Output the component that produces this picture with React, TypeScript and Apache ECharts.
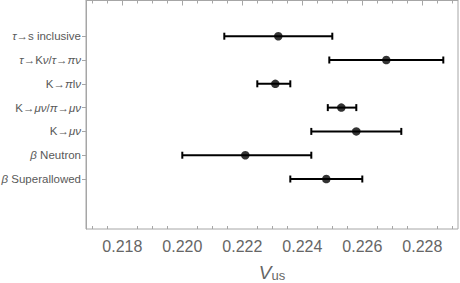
import React, { useEffect, useRef } from "react";
import * as echarts from "echarts";

const categories = [
  "τ→s inclusive",
  "τ→Kν/τ→πν",
  "K→πlν",
  "K→μν/π→μν",
  "K→μν",
  "β Neutron",
  "β Superallowed",
];
const centers = [0.2232, 0.2268, 0.2231, 0.2253, 0.2258, 0.2221, 0.2248];
const lows = [0.2214, 0.2249, 0.2225, 0.22485, 0.2243, 0.2200, 0.2236];
const highs = [0.2250, 0.2287, 0.2236, 0.2258, 0.2273, 0.2243, 0.2260];
const majorTicks = [0.218, 0.220, 0.222, 0.224, 0.226, 0.228];
const minorTicks = [0.217, 0.2175, 0.2185, 0.219, 0.2195, 0.2205, 0.221, 0.2215, 0.2225, 0.223, 0.2235, 0.2245, 0.225, 0.2255, 0.2265, 0.227, 0.2275, 0.2285, 0.229];

const X_MIN = 0.21679;
const X_MAX = 0.22919;
const Y_OFFSET = 1.5;
const Y_MAX = 9.6;

const AXIS_COLOR = "#a6a6a6";
const LABEL_COLOR = "#666666";
const FONT = "'Liberation Sans', Arial, sans-serif";

function italicize(s: string): string {
  return s.replace(/([τνπμβ])/g, "{i|$1}");
}

export default function App() {
  const ref = useRef<HTMLDivElement>(null);
  useEffect(() => {
    document.body.style.margin = "0";
    if (!ref.current) return;
    const chart = echarts.init(ref.current, null, { renderer: "svg" });
    const yPos = categories.map((_, i) => i + Y_OFFSET);
    const baseX = (extra: any) => ({
      type: "value",
      min: X_MIN,
      max: X_MAX,
      gridIndex: 0,
      splitLine: { show: false },
      ...extra,
    });
    const option: any = {
      animation: false,
      grid: {
        left: 86,
        right: 2,
        top: 0.5,
        bottom: 54,
        containLabel: false,
        outerBoundsMode: "none",
        show: true,
        borderColor: AXIS_COLOR,
        borderWidth: 1,
        backgroundColor: "transparent",
      },
      xAxis: [
        baseX({
          position: "bottom",
          axisLine: { show: true, lineStyle: { color: AXIS_COLOR, width: 1 } },
          axisTick: {
            show: true,
            inside: true,
            length: 5,
            customValues: majorTicks,
            lineStyle: { color: AXIS_COLOR },
          },
          axisLabel: {
            show: true,
            customValues: majorTicks,
            formatter: (v: number) => v.toFixed(3),
            color: LABEL_COLOR,
            fontSize: 16,
            fontFamily: FONT,
            margin: 9,
          },
          name: "{v|V}{s|us}",
          nameLocation: "middle",
          nameGap: 33,
          nameTextStyle: {
            rich: {
              v: { fontSize: 19, fontStyle: "italic", color: LABEL_COLOR, fontFamily: FONT, lineHeight: 20, verticalAlign: "bottom" },
              s: { fontSize: 13, color: LABEL_COLOR, fontFamily: FONT, lineHeight: 13, verticalAlign: "bottom" },
            },
          },
        }),
        baseX({
          position: "bottom",
          offset: 0,
          axisLine: { show: false },
          axisTick: { show: true, inside: true, length: 3, customValues: minorTicks, lineStyle: { color: AXIS_COLOR } },
          axisLabel: { show: false },
        }),
        baseX({
          position: "top",
          offset: 0,
          axisLine: { show: false },
          axisTick: { show: true, inside: true, length: 5, customValues: majorTicks, lineStyle: { color: AXIS_COLOR } },
          axisLabel: { show: false },
        }),
        baseX({
          position: "top",
          offset: 0,
          axisLine: { show: false },
          axisTick: { show: true, inside: true, length: 3, customValues: minorTicks, lineStyle: { color: AXIS_COLOR } },
          axisLabel: { show: false },
        }),
      ],
      yAxis: {
        type: "value",
        inverse: true,
        min: 0,
        max: Y_MAX,
        splitLine: { show: false },
        axisLine: { show: true, lineStyle: { color: AXIS_COLOR } },
        axisTick: {
          show: true,
          length: 4,
          customValues: yPos,
          lineStyle: { color: AXIS_COLOR },
        },
        axisLabel: {
          show: true,
          customValues: yPos,
          margin: 5,
          color: "#595959",
          fontSize: 11.5,
          fontFamily: FONT,
          formatter: (v: number) => {
            const idx = Math.round(v - Y_OFFSET);
            const s = categories[idx];
            return s ? italicize(s) : "";
          },
          rich: {
            i: { fontStyle: "italic", color: "#595959", fontSize: 11.5, fontFamily: FONT },
          },
        },
      },
      series: [
        {
          type: "custom",
          xAxisIndex: 0,
          data: categories.map((_, i) => [lows[i], highs[i], yPos[i]]),
          renderItem: (params: any, api: any) => {
            const lo = api.coord([api.value(0), api.value(2)]);
            const hi = api.coord([api.value(1), api.value(2)]);
            const cap = 3.5;
            const style = { stroke: "#000", lineWidth: 2 };
            return {
              type: "group",
              children: [
                { type: "line", shape: { x1: lo[0], y1: lo[1], x2: hi[0], y2: hi[1] }, style },
                { type: "line", shape: { x1: lo[0], y1: lo[1] - cap, x2: lo[0], y2: lo[1] + cap }, style },
                { type: "line", shape: { x1: hi[0], y1: hi[1] - cap, x2: hi[0], y2: hi[1] + cap }, style },
              ],
            };
          },
          encode: { x: [0, 1], y: 2 },
        },
        {
          type: "scatter",
          xAxisIndex: 0,
          symbol: "circle",
          symbolSize: 8.5,
          itemStyle: { color: "#000" },
          data: categories.map((_, i) => [centers[i], yPos[i]]),
        },
      ],
    };
    chart.setOption(option);
    return () => chart.dispose();
  }, []);
  return <div ref={ref} style={{ width: 460, height: 283 }} />;
}
